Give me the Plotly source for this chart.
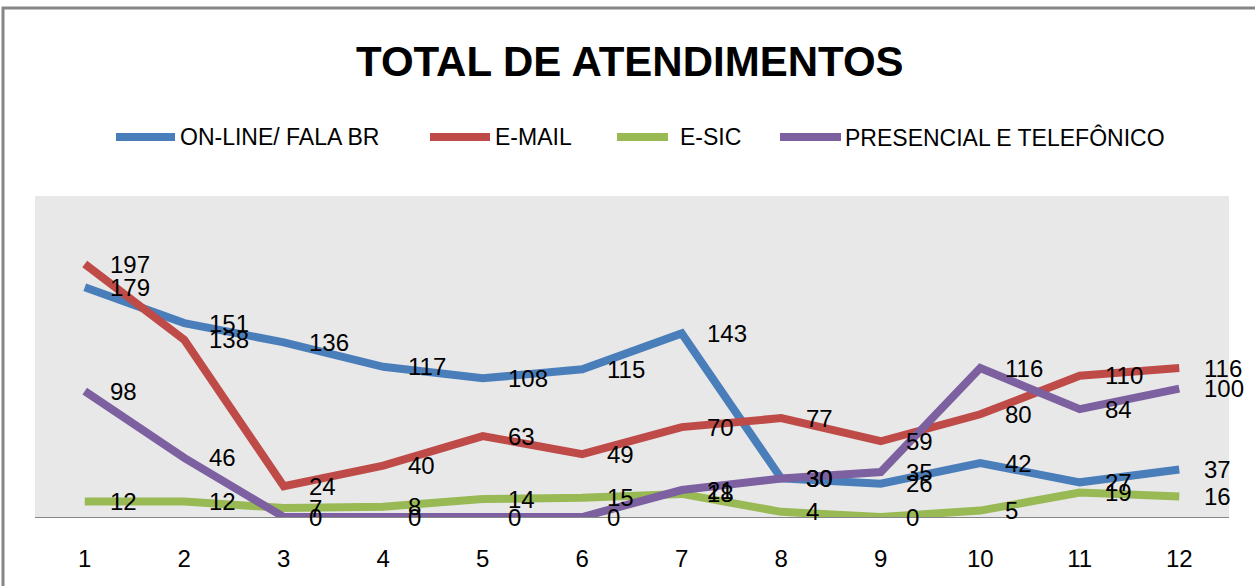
import plotly.graph_objects as go

months = [1, 2, 3, 4, 5, 6, 7, 8, 9, 10, 11, 12]
online = [179, 151, 136, 117, 108, 115, 143, 30, 26, 42, 27, 37]
email = [197, 138, 24, 40, 63, 49, 70, 77, 59, 80, 110, 116]
esic = [12, 12, 7, 8, 14, 15, 18, 4, 0, 5, 19, 16]
presencial = [98, 46, 0, 0, 0, 0, 21, 30, 35, 116, 84, 100]

names = ["ON-LINE/ FALA BR", "E-MAIL", "E-SIC", "PRESENCIAL E TELEFÔNICO"]
colors = ["#4A7EBB", "#BE4B48", "#98B954", "#7D60A0"]
series = [online, email, esic, presencial]
title = "TOTAL DE ATENDIMENTOS"

W, H = 1255, 586
L, R, T, B = 35, 26, 196, 69
PW, PH = W - L - R, H - T - B


def px(x):
    return (x - L) / PW


def py(y):
    return (H - B - y) / PH


FONT = "Liberation Sans, Arial, sans-serif"

fig = go.Figure()
for name, vals, col in zip(names, series, colors):
    fig.add_trace(go.Scatter(x=months, y=vals, mode="lines", name=name,
                             line=dict(color=col, width=8), showlegend=False))

annotations = []
for vals in series:
    for m, v in zip(months, vals):
        annotations.append(dict(x=m, y=v, xref="x", yref="y", text=str(v),
                                showarrow=False, xanchor="left", yanchor="middle",
                                xshift=23, font=dict(family=FONT, size=24, color="black")))

# title
annotations.append(dict(x=px(630), y=py(62), xref="paper", yref="paper", text="<b>" + title + "</b>",
                        showarrow=False, xanchor="center", yanchor="middle",
                        font=dict(family=FONT, size=42, color="black")))

shapes = []
# manual legend
leg_lines = [(116, 175), (430, 490), (617, 668), (780, 841)]
leg_text_x = [178, 493, 678, 843]
for (x0, x1), tx, name, col in zip(leg_lines, leg_text_x, names, colors):
    shapes.append(dict(type="line", xref="paper", yref="paper", x0=px(x0), x1=px(x1),
                       y0=py(137), y1=py(137), line=dict(color=col, width=8)))
    annotations.append(dict(x=px(tx), y=py(137), xref="paper", yref="paper", text=name,
                            showarrow=False, xanchor="left", yanchor="middle",
                            font=dict(family=FONT, size=23, color="black")))

# outer frame
shapes.append(dict(type="rect", xref="paper", yref="paper", x0=px(3), x1=px(1262),
                   y0=py(600), y1=py(8), line=dict(color="#868686", width=3), layer="below"))

fig.update_layout(
    width=W, height=H,
    margin=dict(l=L, r=R, t=T, b=B),
    paper_bgcolor="white",
    plot_bgcolor="#E8E8E8",
    showlegend=False,
    annotations=annotations,
    shapes=shapes,
    xaxis=dict(range=[0.5, 12.5], tickmode="array", tickvals=months, ticktext=[str(m) for m in months],
               showgrid=False, zeroline=False, showline=False, ticks="outside", ticklen=20,
               tickcolor="rgba(0,0,0,0)", tickfont=dict(family=FONT, size=24, color="black")),
    yaxis=dict(range=[0, 250], showgrid=False, zeroline=True, zerolinecolor="#868686", zerolinewidth=1,
               showticklabels=False, showline=False),
)

fig.write_html("out.html", config={"displayModeBar": False},
               post_script="document.body.style.margin='0';document.body.style.overflow='hidden';")
